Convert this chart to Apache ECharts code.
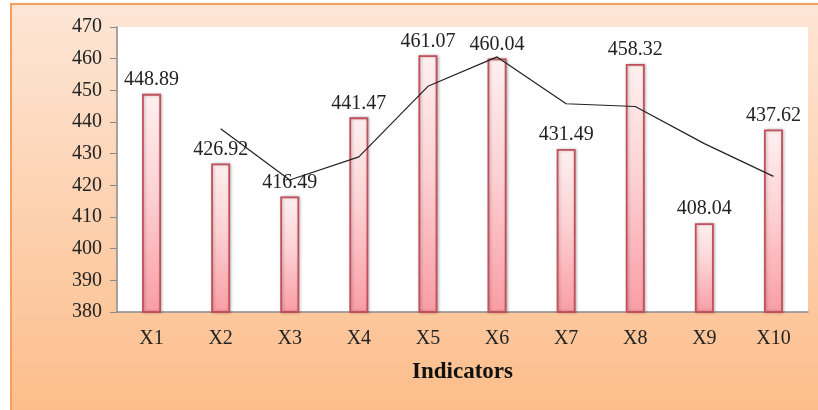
<!DOCTYPE html>
<html>
<head>
<meta charset="utf-8">
<script src="https://cdn.jsdelivr.net/npm/echarts@6/dist/echarts.min.js"></script>
<style>
  html, body { margin: 0; padding: 0; background: #fff; }
  #main { width: 818px; height: 410px; }
</style>
</head>
<body>
<div id="main"></div>
<script>
var chart = echarts.init(document.getElementById('main'));

// indicators and their values
var categories = ['X1', 'X2', 'X3', 'X4', 'X5', 'X6', 'X7', 'X8', 'X9', 'X10'];
var values = [448.89, 426.92, 416.49, 441.47, 461.07, 460.04, 431.49, 458.32, 408.04, 437.62];
// trend line (2 period moving average)
var trend = [null, 437.9, 421.7, 428.98, 451.27, 460.56, 445.77, 444.9, 433.18, 422.83];
var yTicks = [380, 470, 10];

var serif = 'Liberation Serif';

var option = {
    animation: false,
    graphic: [
        {
            type: 'rect',
            left: 10,
            top: 3,
            z: -10,
            shape: { width: 820, height: 420 },
            style: {
                fill: new echarts.graphic.LinearGradient(0, 0, 0, 1, [
                    { offset: 0, color: '#fde6d6' },
                    { offset: 1, color: '#fcbc88' }
                ]),
                stroke: '#f5a060',
                lineWidth: 2
            }
        }
    ],
    grid: {
        left: 117,
        right: 10,
        top: 27,
        bottom: 98,
        show: true,
        backgroundColor: '#ffffff',
        borderWidth: 0
    },
    xAxis: {
        type: 'category',
        data: categories,
        name: 'Indicators',
        nameLocation: 'middle',
        nameGap: 49,
        nameTextStyle: {
            fontFamily: serif,
            fontWeight: 'bold',
            fontSize: 23,
            color: '#111'
        },
        axisLine: { lineStyle: { color: '#8a8a8a', width: 1.5 } },
        axisTick: { show: false },
        axisLabel: {
            fontFamily: serif,
            fontSize: 20,
            color: '#222',
            margin: 17
        }
    },
    yAxis: {
        type: 'value',
        min: yTicks[0],
        max: yTicks[1],
        interval: yTicks[2],
        axisLine: { show: true, lineStyle: { color: '#8a8a8a', width: 1.5 } },
        axisTick: { show: true, length: 7, lineStyle: { color: '#8a8a8a' } },
        splitLine: { show: false },
        axisLabel: {
            fontFamily: serif,
            fontSize: 20,
            color: '#222',
            margin: 15
        }
    },
    series: [
        {
            type: 'bar',
            data: values,
            barWidth: 19,
            itemStyle: {
                color: new echarts.graphic.LinearGradient(0, 0, 0, 1, [
                    { offset: 0, color: '#fff0f0' },
                    { offset: 0.45, color: '#fdd2d4' },
                    { offset: 1, color: '#f99da5' }
                ]),
                borderColor: '#c2505a',
                borderWidth: 1.8,
                shadowColor: 'rgba(0,0,0,0.25)',
                shadowBlur: 3,
                shadowOffsetX: 1
            },
            label: {
                show: true,
                position: 'top',
                distance: 4,
                fontFamily: serif,
                fontSize: 20,
                color: '#222'
            },
            z: 2
        },
        {
            type: 'line',
            data: trend,
            showSymbol: false,
            symbol: 'none',
            lineStyle: { color: '#222', width: 1.2 },
            z: 3
        }
    ]
};

chart.setOption(option);
</script>
</body>
</html>
